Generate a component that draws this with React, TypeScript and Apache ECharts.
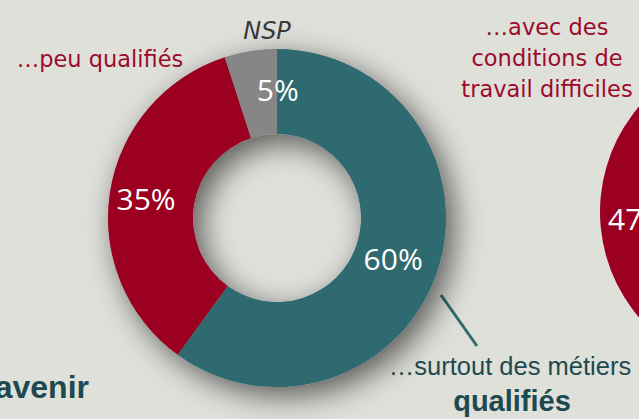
import React, { useEffect, useRef } from "react";
import * as echarts from "echarts";

// Main donut: "...surtout des métiers qualifiés" / "...peu qualifiés" / NSP
const categories = ["qualifiés", "peu qualifiés", "NSP"];
const values = [60, 35, 5];
const sliceColors = ["#2e6a6f", "#9b0020", "#868686"];

// Neighbouring donut (partly visible on the right edge)
const categories2 = ["autres", "conditions de travail difficiles"];
const values2 = [53, 47];
const sliceColors2 = ["#2e6a6f", "#9b0020"];

const labelNudges = [
  { dx: -7, dy: 0 },
  { dx: -3, dy: 1 },
  { dx: 21, dy: -1 },
];

export default function App() {
  const ref = useRef<HTMLDivElement>(null);

  useEffect(() => {
    if (!ref.current) return;
    const chart = echarts.init(ref.current, null, { renderer: "svg" });
    const redText = "#9d0a2a";
    const tealText = "#1d4a4f";
    const labelFont = {
      show: true,
      position: "inside",
      color: "#ffffff",
      fontFamily: "Open Sans",
      fontSize: 30,
      formatter: (p: any) => `${p.value}%`,
    };

    chart.setOption({
      animation: false,
      backgroundColor: "#dfe0da",
      series: [
        {
          // shadow ring behind the main donut
          type: "pie",
          silent: true,
          center: [277, 218],
          radius: [84, 169],
          label: { show: false },
          labelLine: { show: false },
          itemStyle: {
            color: "#999",
            shadowColor: "rgba(0,0,0,0.6)",
            shadowBlur: 30,
            shadowOffsetX: 8,
            shadowOffsetY: 9,
          },
          data: [{ value: 1, name: "ombre" }],
        },
        {
          type: "pie",
          silent: true,
          center: [277, 218],
          radius: [84, 169],
          startAngle: 90,
          clockwise: true,
          avoidLabelOverlap: false,
          label: labelFont,
          labelLine: { show: false },
          labelLayout: (p: any) => labelNudges[p.dataIndex] || {},
          data: categories.map((c, i) => ({
            name: c,
            value: values[i],
            itemStyle: { color: sliceColors[i] },
          })),
        },
        {
          type: "pie",
          silent: true,
          center: [762, 212],
          radius: [82, 162],
          startAngle: 90,
          clockwise: true,
          avoidLabelOverlap: false,
          labelLine: { show: false },
          labelLayout: (p: any) => (p.dataIndex === 1 ? { dx: 0, dy: 18 } : {}),
          data: categories2.map((c, i) => ({
            name: c,
            value: values2[i],
            itemStyle: { color: sliceColors2[i] },
            label: i === 1 ? labelFont : { show: false },
          })),
        },
      ],
      graphic: [
        {
          type: "text",
          x: 267,
          y: 31,
          style: {
            text: "NSP",
            fill: "#3a3a3a",
            fontFamily: "DejaVu Sans",
            fontStyle: "italic",
            fontSize: 24,
            align: "center",
            verticalAlign: "middle",
          },
        },
        {
          type: "text",
          x: 100,
          y: 59,
          style: {
            text: "…peu qualifiés",
            fill: redText,
            fontFamily: "DejaVu Sans",
            fontSize: 22.5,
            align: "center",
            verticalAlign: "middle",
          },
        },
        ...["…avec des", "conditions de", "travail difficiles"].map((t, i) => ({
          type: "text",
          x: 547,
          y: 27 + i * 31,
          style: {
            text: t,
            fill: redText,
            fontFamily: "DejaVu Sans",
            fontSize: 22.5,
            align: "center",
            verticalAlign: "middle",
          },
        })),
        {
          type: "line",
          shape: { x1: 441, y1: 295, x2: 477, y2: 346 },
          style: { stroke: "#2e6a6f", lineWidth: 3 },
        },
        {
          type: "text",
          x: 510,
          y: 366,
          style: {
            text: "…surtout des métiers",
            fill: tealText,
            fontFamily: "Liberation Sans",
            fontSize: 25.5,
            align: "center",
            verticalAlign: "middle",
          },
        },
        {
          type: "text",
          x: 512,
          y: 401,
          style: {
            text: "qualifiés",
            fill: tealText,
            fontFamily: "Liberation Sans",
            fontWeight: "bold",
            fontSize: 29,
            align: "center",
            verticalAlign: "middle",
          },
        },
        {
          type: "text",
          x: 89,
          y: 387,
          style: {
            text: "avenir",
            fill: tealText,
            fontFamily: "Liberation Sans",
            fontWeight: "bold",
            fontSize: 32,
            align: "right",
            verticalAlign: "middle",
          },
        },
      ],
    });
    return () => chart.dispose();
  }, []);

  return (
    <div
      ref={ref}
      style={{ position: "fixed", left: 0, top: 0, width: 639, height: 419 }}
    />
  );
}
